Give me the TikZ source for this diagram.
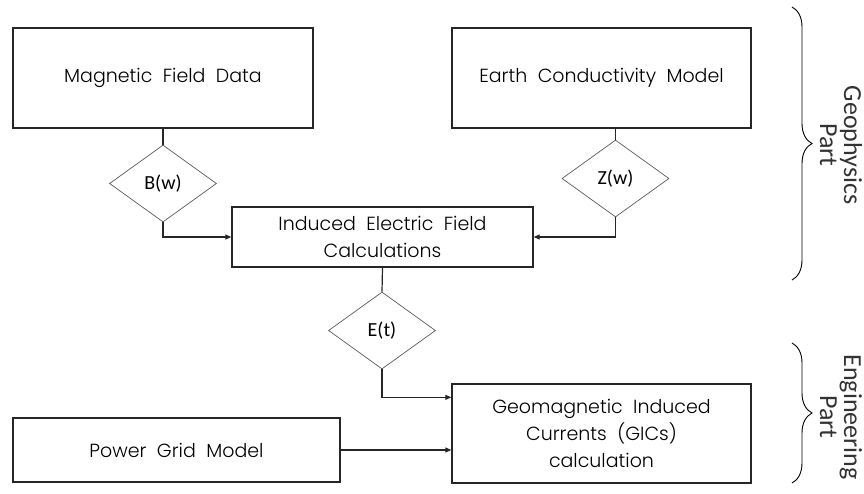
\documentclass[tikz,border=0pt]{standalone}
\usepackage{fontspec}
\setmainfont{Poppins}[UprightFont=* Light, WordSpace=2]
\newfontfamily\calfont{Carlito}
\usetikzlibrary{shapes.geometric,arrows.meta,decorations.pathreplacing}
\begin{document}
\begin{tikzpicture}[x=1pt,y=-1pt,
  box/.style={draw=black!85,line width=1.3pt,rectangle,inner sep=0pt,align=center,
    font=\fontsize{19}{27}\selectfont},
  dia/.style={draw=black!65,line width=0.7pt,diamond,inner sep=0pt,
    minimum width=107pt,minimum height=77pt,font=\calfont\fontsize{20}{22}\selectfont},
  conn/.style={draw=black!85,line width=1.2pt},
  arr/.style={conn,-{Triangle[length=6pt,width=5pt]}},
  brc/.style={draw=black,line width=0.9pt,decorate,decoration={brace,amplitude=20pt}},
  side/.style={font=\calfont\fontsize{26}{24}\selectfont,align=center,rotate=-90,text=black!80}]
\useasboundingbox (0,0) rectangle (864,493);
\node[box,minimum width=300pt,minimum height=100pt] (mfd) at (163,78) {Magnetic Field Data};
\node[box,minimum width=299pt,minimum height=100pt] (ecm) at (601.5,78) {Earth Conductivity Model};
\node[box,minimum width=301pt,minimum height=60pt] (ief) at (382.5,237) {Induced Electric Field\\Calculations};
\node[box,minimum width=299pt,minimum height=99pt] (gic) at (601.5,433.5) {Geomagnetic Induced\\Currents (GICs)\\calculation};
\node[box,minimum width=327pt,minimum height=64pt] (pgm) at (176.5,450) {Power Grid Model};
\node[dia] (B) at (163,183.5) {B(w)};
\node[dia] (Z) at (615.5,178.5) {Z(w)};
\node[dia] (E) at (382,330.5) {E(t)};
\draw[conn] (mfd.south) -- (B.north);
\draw[arr] (B.south) |- (ief.west);
\draw[conn] (Z.north |- ecm.south) -- (Z.north);
\draw[arr] (Z.south) |- (ief.east);
\draw[conn] (ief.south) -- (E.north);
\coordinate (gin) at ([yshift=-14pt]gic.north west);
\draw[arr] (E.south) |- (gin);
\draw[arr] (pgm.east) -- (pgm.east -| gic.west);
\coordinate (g1) at (792,7);
\coordinate (g2) at (792,280);
\draw[brc] (g1) -- (g2);
\coordinate (e1) at (792,343);
\coordinate (e2) at (792,483);
\draw[brc] (e1) -- (e2);
\node[side] (geo) at (841,145) {Geophysics\\Part};
\node[side] (eng) at (841,417) {Engineering\\Part};
\end{tikzpicture}
\end{document}
